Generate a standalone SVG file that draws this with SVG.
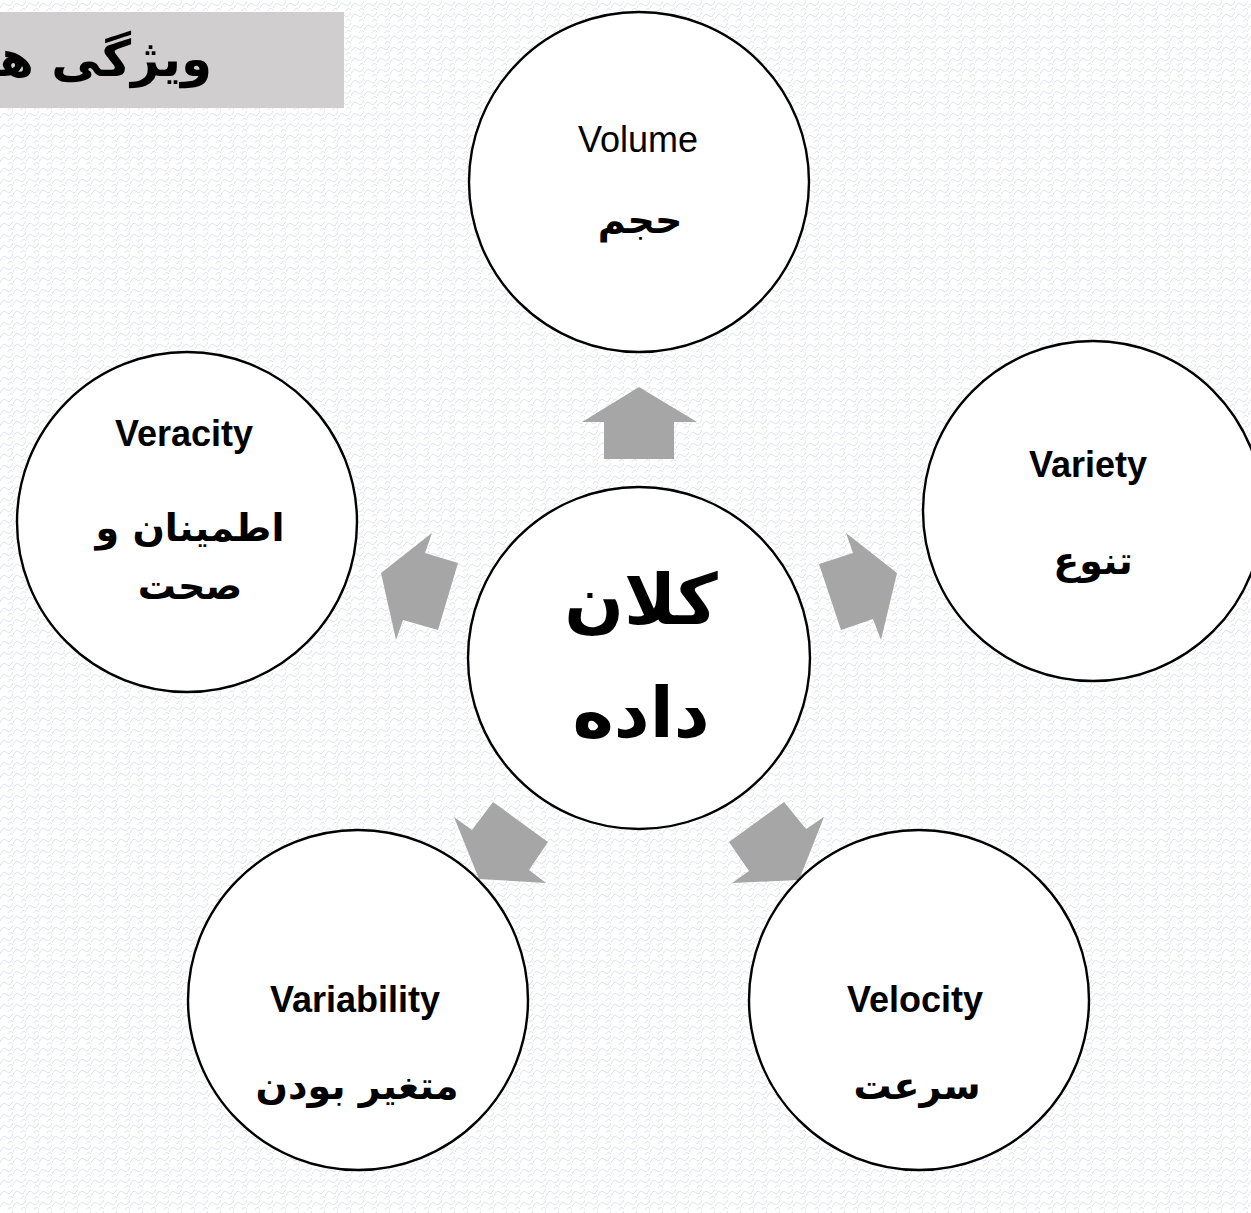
<svg xmlns="http://www.w3.org/2000/svg" width="1251" height="1213" viewBox="0 0 1251 1213">
  <style>
    .node { fill: #ffffff; stroke: #000000; stroke-width: 2.4; }
    .arrow { fill: #a6a6a6; stroke: none; }
    .en { font-family: "Liberation Sans", Arial, sans-serif; font-size: 36px; fill: #000; text-anchor: middle; }
    .enb { font-weight: bold; }
    .fa { font-family: "DejaVu Sans", "Noto Sans", sans-serif; font-weight: bold; font-size: 38px; fill: #000; text-anchor: middle; }
    .fa-big { font-size: 70px; }
    .title { font-family: "DejaVu Sans", "Noto Sans", sans-serif; font-weight: bold; font-size: 50px; fill: #000; text-anchor: end; }
  </style>
  <defs>
    <!-- light scale texture for the page background -->
    <pattern id="scales" width="13" height="11" patternUnits="userSpaceOnUse">
      <rect width="13" height="11" fill="#ffffff"/>
      <path d="M0 8 Q3 1 6.5 4.5 Q10 8 13 1 M-6.5 2.5 Q-3 -4 0 -1 M6.5 13 Q10 6 13 10" fill="none" stroke="#dde1ee" stroke-width="1"/>
    </pattern>
  </defs>

  <rect width="1251" height="1213" fill="url(#scales)"/>

  <!-- heading strip; the heading runs off the left page edge -->
  <g id="heading">
    <rect x="0" y="12" width="344" height="96" fill="#d0cece"/>
    <text class="title" x="212" y="76">ویژگی ها</text>
  </g>

  <!-- arrows pointing from the hub to each property -->
  <g id="connectors">
    <polygon class="arrow" points="639,387 697,422 674,422 674,459 604,459 604,422 582,422"/>
    <polygon class="arrow" points="381,573 432,533 425,553 458,563 438,630 403,620 396,640"/>
    <polygon class="arrow" points="897,573 846,533 853,553 819,564 841,630 873,619 881,640"/>
    <polygon class="arrow" points="479,879 454,817 472,830 493,802 548,842 529,870 546,883"/>
    <polygon class="arrow" points="799,880 824,817 806,829 784,802 729,842 749,871 732,883"/>
  </g>

  <g id="node-volume">
    <circle class="node" cx="639" cy="182" r="170"/>
    <text class="en" x="638" y="152" font-size="37">Volume</text>
    <text class="fa" x="640" y="233">حجم</text>
  </g>

  <g id="node-hub">
    <circle class="node" cx="639" cy="658" r="171"/>
    <text class="fa fa-big" x="641" y="624">کلان</text>
    <text class="fa fa-big" x="641" y="737">داده</text>
  </g>

  <g id="node-variety">
    <circle class="node" cx="1093" cy="511" r="170"/>
    <text class="en enb" x="1088" y="477">Variety</text>
    <text class="fa" x="1093" y="574">تنوع</text>
  </g>

  <g id="node-veracity">
    <circle class="node" cx="187" cy="522" r="170"/>
    <text class="en enb" x="184" y="446">Veracity</text>
    <text class="fa" x="190" y="541">اطمینان و</text>
    <text class="fa" x="190" y="599">صحت</text>
  </g>

  <g id="node-variability">
    <circle class="node" cx="358" cy="1000" r="170"/>
    <text class="en enb" x="355" y="1012">Variability</text>
    <text class="fa" x="357" y="1099">متغیر بودن</text>
  </g>

  <g id="node-velocity">
    <circle class="node" cx="919" cy="1000" r="170"/>
    <text class="en enb" x="915" y="1012">Velocity</text>
    <text class="fa" x="917" y="1099">سرعت</text>
  </g>
</svg>
